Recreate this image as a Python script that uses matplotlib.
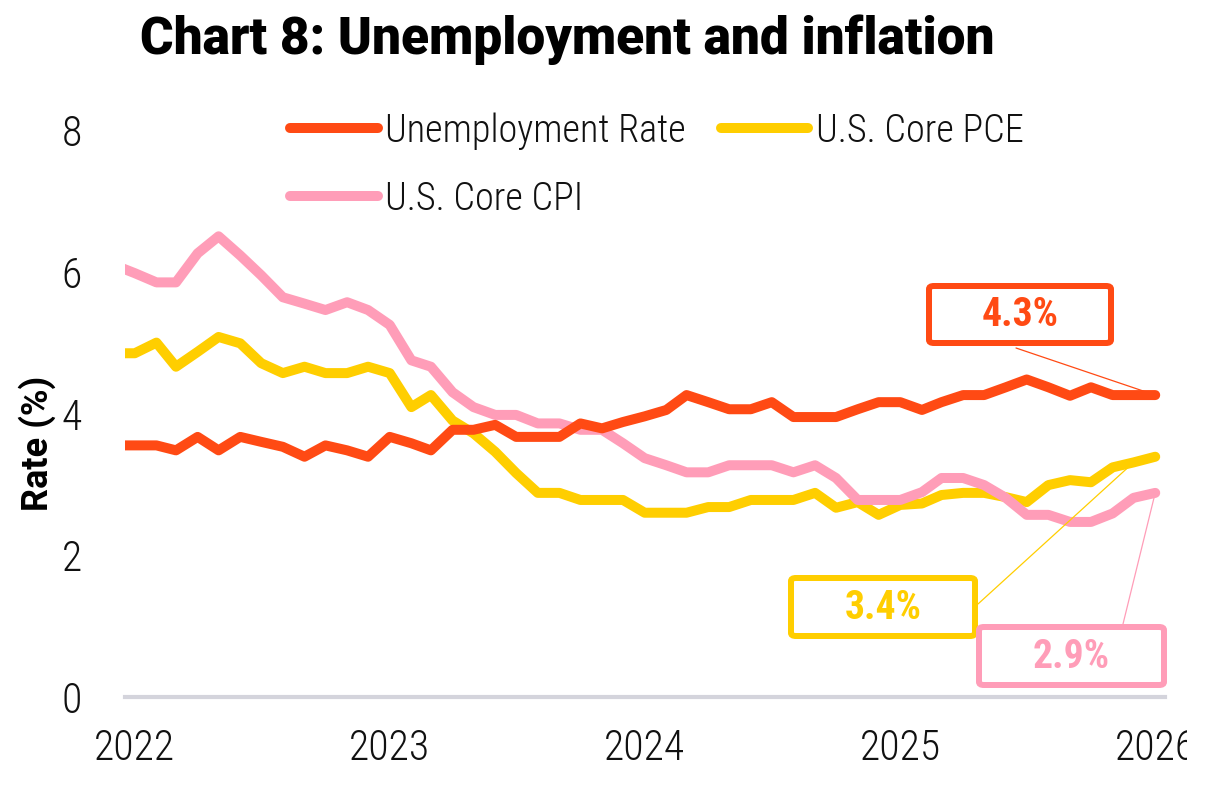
import matplotlib
matplotlib.use("Agg")
import matplotlib.pyplot as plt
from matplotlib import font_manager
from matplotlib.patches import FancyBboxPatch, Rectangle
import pandas as pd

# ---------------- data ----------------
start_month = "2021-12-01"
end_month = "2026-01-01"
year_ticks = ["2022", "2023", "2024", "2025", "2026"]
y_ticks = [0, 2, 4, 6, 8]

unemployment = [3.55,
    3.55, 3.55, 3.48, 3.67, 3.48, 3.67, 3.60, 3.53, 3.39, 3.55, 3.48, 3.39,
    3.67, 3.58, 3.48, 3.77, 3.77, 3.84, 3.67, 3.67, 3.67, 3.86, 3.79, 3.88,
    3.96, 4.05, 4.26, 4.16, 4.06, 4.06, 4.16, 3.95, 3.95, 3.95, 4.06, 4.16,
    4.16, 4.05, 4.16, 4.26, 4.26, 4.37, 4.48, 4.37, 4.25, 4.37, 4.26, 4.26,
    4.26]
core_pce = [4.85,
    4.85, 5.00, 4.66, 4.87, 5.08, 4.99, 4.71, 4.57, 4.66, 4.57, 4.57, 4.66,
    4.57, 4.09, 4.26, 3.90, 3.72, 3.46, 3.16, 2.88, 2.88, 2.78, 2.78, 2.78,
    2.60, 2.60, 2.60, 2.68, 2.68, 2.78, 2.78, 2.78, 2.88, 2.67, 2.75, 2.57,
    2.71, 2.73, 2.85, 2.88, 2.88, 2.82, 2.75, 2.99, 3.06, 3.03, 3.24, 3.31,
    3.39]
core_cpi = [6.10,
    5.98, 5.85, 5.85, 6.26, 6.50, 6.23, 5.95, 5.64, 5.55, 5.46, 5.57, 5.46,
    5.25, 4.75, 4.66, 4.30, 4.09, 3.98, 3.98, 3.86, 3.86, 3.77, 3.77, 3.58,
    3.37, 3.27, 3.17, 3.17, 3.27, 3.27, 3.27, 3.17, 3.27, 3.09, 2.78, 2.78,
    2.78, 2.89, 3.09, 3.09, 2.99, 2.81, 2.57, 2.57, 2.47, 2.47, 2.59, 2.81,
    2.88]

series_names = ["Unemployment Rate", "U.S. Core PCE", "U.S. Core CPI"]
callout_texts = ["4.3%", "3.4%", "2.9%"]

RED = "#FF4A14"
YELLOW = "#FFCE00"
PINK = "#FF9DB8"
GRAY = "#D4D4DC"

# pick a narrow face if one exists, else Roboto light
_names = {f.name for f in font_manager.fontManager.ttflist}
_narrow = next((n for n in ["Roboto Condensed", "Liberation Sans Narrow"] if n in _names), None)
if _narrow:
    LIGHT = dict(family=[_narrow, "DejaVu Sans"], weight="light")
    LSIZE = 27.5
    TSIZE = 30
    BOLDN = dict(family=[_narrow, "DejaVu Sans"], weight="bold")
else:
    LIGHT = dict(family=["Roboto", "DejaVu Sans"], weight="light")
    LSIZE = 24
    TSIZE = 26
    BOLDN = dict(family=["Roboto", "DejaVu Sans"], weight="bold")

W, H = 1231, 793
fig = plt.figure(figsize=(W / 100, H / 100), dpi=100)


def fx(x):
    return x / W


def fy(y):
    return 1 - y / H


ax = fig.add_axes([fx(125), fy(697), fx(1165) - fx(125), fy(130) - fy(697)])

dates = pd.date_range(start_month, end_month, freq="MS")
lw = 7.2
l_un, = ax.plot(dates, unemployment, color=RED, lw=lw, solid_capstyle="round",
                solid_joinstyle="round", label=series_names[0], zorder=3)
l_pce, = ax.plot(dates, core_pce, color=YELLOW, lw=lw, solid_capstyle="round",
                 solid_joinstyle="round", label=series_names[1], zorder=2)
l_cpi, = ax.plot(dates, core_cpi, color=PINK, lw=lw, solid_capstyle="round",
                 solid_joinstyle="round", label=series_names[2], zorder=2)

ax.set_xlim(dates[1] - pd.Timedelta(days=14), dates[-1] + pd.Timedelta(days=14))
ax.set_ylim(0, 8)

tick_dates = pd.to_datetime([f"{y}-01-01" for y in year_ticks])
ax.set_xticks(tick_dates)
ax.set_xticklabels(year_ticks)
ax.set_yticks(y_ticks)
ax.set_yticklabels([str(v) for v in y_ticks])

for lab in ax.get_xticklabels() + ax.get_yticklabels():
    lab.set_fontfamily(LIGHT["family"])
    lab.set_fontweight(LIGHT["weight"])
    lab.set_fontsize(TSIZE)
    lab.set_color("#111111")
ax.tick_params(axis="x", length=0, pad=22)
ax.tick_params(axis="y", length=0, pad=31)

for s in ["left", "right", "top"]:
    ax.spines[s].set_visible(False)
ax.spines["bottom"].set_color(GRAY)
ax.spines["bottom"].set_linewidth(3)
ax.patch.set_alpha(0)

# legend
leg = ax.legend(handles=[l_un, l_cpi, l_pce], ncol=2, loc="upper left",
                bbox_to_anchor=(fx(290), fy(112)), bbox_transform=fig.transFigure,
                frameon=False,
                prop={"family": LIGHT["family"], "weight": LIGHT["weight"], "size": LSIZE},
                handlelength=2.3, handletextpad=0.2, columnspacing=0.9,
                labelspacing=0.8, borderpad=0, borderaxespad=0)
for t in leg.get_texts():
    t.set_color("#111111")

# title and y label
fig.text(fx(140), fy(40), "Chart 8: Unemployment and inflation",
         fontsize=37, fontweight="black", family=["Roboto", "DejaVu Sans"],
         ha="left", va="center", color="black")
fig.text(fx(37), fy(443), "Rate (%)", rotation=90, fontsize=26, fontweight="bold",
         family=["Roboto", "DejaVu Sans"], ha="center", va="center", color="black")

# callout boxes
boxes = [
    # (x0, y0, x1, y1, color, text, leader start, series, target index)
    (926, 283, 1114, 346, RED, callout_texts[0], (1016, 348), unemployment, -1),
    (788, 575, 978, 639, YELLOW, callout_texts[1], (978, 604), core_pce, -2),
    (976, 624, 1167, 688, PINK, callout_texts[2], (1123, 624), core_cpi, -1),
]
for x0, y0, x1, y1, col, txt, (lx, ly), ser, idx in boxes:
    bw = 6
    patch = FancyBboxPatch((fx(x0 + bw / 2), fy(y1 - bw / 2)),
                           fx(x1 - x0 - bw), fy(0) - fy(y1 - y0 - bw),
                           boxstyle="round,pad=0,rounding_size=0.004",
                           transform=fig.transFigure, facecolor="white",
                           edgecolor=col, linewidth=bw * 0.72, zorder=5)
    fig.patches.append(patch)
    fig.text(fx((x0 + x1) / 2), fy((y0 + y1) / 2 + 1), txt, fontsize=28.5,
             fontweight=BOLDN["weight"], family=BOLDN["family"], color=col,
             ha="center", va="center", zorder=6)
    ax.annotate("", xy=(dates[idx], ser[idx]), xycoords="data",
                xytext=(fx(lx), fy(ly)), textcoords="figure fraction",
                arrowprops=dict(arrowstyle="-", color=col, lw=0.9,
                                shrinkA=0, shrinkB=0),
                zorder=4, annotation_clip=False)

# the source image cuts the last year label at its right edge
fig.patches.append(Rectangle((fx(1187), 0), 1 - fx(1187), fy(705), transform=fig.transFigure,
                             facecolor="white", edgecolor="none", zorder=10))

fig.savefig("out.png", dpi=100)
